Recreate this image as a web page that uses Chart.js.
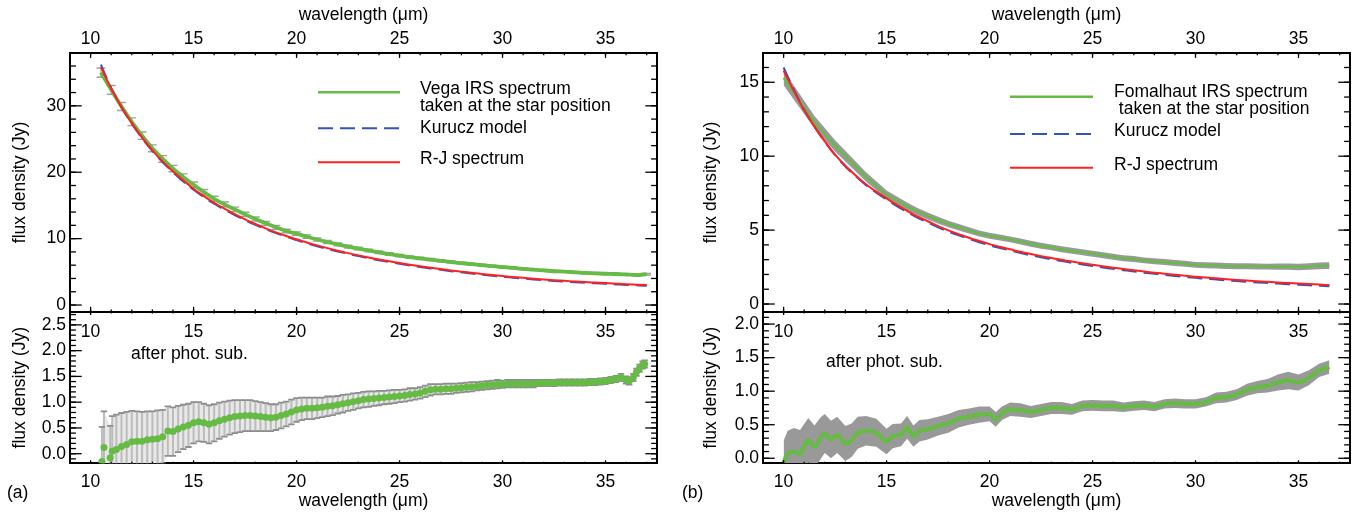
<!DOCTYPE html>
<html>
<head>
<meta charset="utf-8">
<script src="https://cdn.jsdelivr.net/npm/chart.js@4.4.1/dist/chart.umd.min.js"></script>
<style>
html,body{margin:0;padding:0;background:#fff;width:1356px;height:514px;overflow:hidden}
#stage{position:absolute;left:0;top:0;width:1356px;height:514px;font-family:"Liberation Sans",Arial,Helvetica,sans-serif;color:#000}
#stage canvas{position:absolute;top:0}
.t{position:absolute;font-size:17.5px;line-height:20px;white-space:pre}
</style>
</head>
<body>
<div id="stage">
  <canvas id="lb" width="678" height="514" style="left:0;width:678px;height:514px"></canvas>
  <canvas id="lt" width="678" height="514" style="left:0;width:678px;height:514px"></canvas>
  <canvas id="rb" width="678" height="514" style="left:678px;width:678px;height:514px"></canvas>
  <canvas id="rt" width="678" height="514" style="left:678px;width:678px;height:514px"></canvas>
  <svg width="1356" height="514" style="position:absolute;left:0;top:0">
    <line x1="318" y1="92.3" x2="400" y2="92.3" stroke="#66bb44" stroke-width="2.5"/>
    <line x1="318" y1="128.3" x2="400" y2="128.3" stroke="#3355bb" stroke-width="2" stroke-dasharray="15 7"/>
    <line x1="318" y1="162.3" x2="400" y2="162.3" stroke="#ff2020" stroke-width="2"/>
    <line x1="1010" y1="96.7" x2="1093" y2="96.7" stroke="#66bb44" stroke-width="2.5"/>
    <line x1="1010" y1="134" x2="1093" y2="134" stroke="#3355bb" stroke-width="2" stroke-dasharray="15 7"/>
    <line x1="1010" y1="167.7" x2="1093" y2="167.7" stroke="#ff2020" stroke-width="2"/>
  </svg>
  <div class="t" style="left:420px;top:78px">Vega IRS spectrum</div>
  <div class="t" style="left:420px;top:95px">taken at the star position</div>
  <div class="t" style="left:420px;top:117px">Kurucz model</div>
  <div class="t" style="left:420px;top:148px">R-J spectrum</div>
  <div class="t" style="left:1114px;top:81px">Fomalhaut IRS spectrum</div>
  <div class="t" style="left:1114px;top:98px"> taken at the star position</div>
  <div class="t" style="left:1114px;top:120px">Kurucz model</div>
  <div class="t" style="left:1114px;top:154px">R-J spectrum</div>
  <div class="t" style="left:131px;top:343px">after phot. sub.</div>
  <div class="t" style="left:826px;top:351px">after phot. sub.</div>
  <div class="t" style="left:7px;top:482px">(a)</div>
  <div class="t" style="left:682px;top:482px">(b)</div>
</div>
<script>
// ---------------- DATA ----------------
const xTickVals = [10, 15, 20, 25, 30, 35];
const vegaFluxTicks = [0, 10, 20, 30];
const vegaResTicks = [0, 0.5, 1, 1.5, 2, 2.5];
const fomFluxTicks = [0, 5, 10, 15];
const fomResTicks = [0, 0.5, 1, 1.5, 2];

// Vega, upper panel (Jy)
const vegaWave = [10.5, 11, 11.5, 12, 12.5, 13, 13.5, 14, 14.5, 15,
  15.5, 16, 16.5, 17, 17.5, 18, 18.5, 19, 19.5, 20,
  20.5, 21, 21.5, 22, 22.5, 23, 23.5, 24, 24.5, 25,
  25.5, 26, 26.5, 27, 27.5, 28, 28.5, 29, 29.5, 30,
  30.5, 31, 31.5, 32, 32.5, 33, 33.5, 34, 34.5, 35,
  35.5, 36, 36.5, 37];
const vegaIRS = [35.0, 32.4, 29.9, 27.6, 25.5, 23.6, 22.0, 20.55, 19.3, 18.1,
  17.0, 16.0, 15.15, 14.4, 13.65, 12.95, 12.3, 11.7, 11.15, 10.75,
  10.3, 9.87, 9.49, 9.13, 8.8, 8.5, 8.22, 7.94, 7.68, 7.44,
  7.22, 7.02, 6.85, 6.66, 6.47, 6.31, 6.15, 6.0, 5.86, 5.72,
  5.59, 5.45, 5.32, 5.21, 5.09, 5.03, 4.93, 4.84, 4.77, 4.71,
  4.67, 4.6, 4.52, 4.65];
const vegaIRSerr = [0.7, 0.65, 0.6, 0.58, 0.55, 0.52, 0.5, 0.48, 0.45, 0.42,
  0.4, 0.38, 0.36, 0.34, 0.32, 0.3, 0.29, 0.28, 0.27, 0.26,
  0.25, 0.24, 0.23, 0.22, 0.21, 0.2, 0.2, 0.19, 0.19, 0.18,
  0.18, 0.17, 0.17, 0.16, 0.16, 0.15, 0.15, 0.15, 0.14, 0.14,
  0.14, 0.13, 0.13, 0.13, 0.12, 0.12, 0.12, 0.12, 0.12, 0.12,
  0.12, 0.12, 0.12, 0.12];
const vegaKurucz = [36.2, 32.7, 29.8, 27.3, 25.1, 23.2, 21.5, 20.0, 18.6, 17.35,
  16.25, 15.25, 14.35, 13.55, 12.78, 12.08, 11.43, 10.83, 10.28, 9.78,
  9.3, 8.86, 8.45, 8.07, 7.71, 7.37, 7.05, 6.75, 6.47, 6.21,
  5.96, 5.73, 5.51, 5.3, 5.1, 4.92, 4.74, 4.57, 4.41, 4.26,
  4.12, 3.98, 3.85, 3.73, 3.63, 3.54, 3.44, 3.35, 3.27, 3.19,
  3.11, 3.03, 2.96, 2.9];
const vegaRJ = [35.8, 32.6, 29.8, 27.4, 25.2, 23.3, 21.6, 20.1, 18.8, 17.5,
  16.4, 15.4, 14.5, 13.7, 12.9, 12.2, 11.55, 10.95, 10.4, 9.9,
  9.42, 8.98, 8.57, 8.18, 7.82, 7.48, 7.16, 6.86, 6.58, 6.32,
  6.07, 5.84, 5.62, 5.41, 5.21, 5.03, 4.85, 4.68, 4.52, 4.37,
  4.23, 4.09, 3.96, 3.84, 3.74, 3.65, 3.55, 3.46, 3.38, 3.3,
  3.22, 3.14, 3.07, 3.0];

// Vega, lower panel: after photosphere subtraction (Jy)
const vegaResWave = [10.55, 10.65, 10.95, 11.05, 11.25, 11.5, 11.75, 12.0, 12.25, 12.5,
  12.75, 13.0, 13.25, 13.5, 13.75, 14.0, 14.25, 14.5, 14.75, 15.0,
  15.25, 15.5, 15.75, 16.0, 16.25, 16.5, 16.75, 17.0, 17.25, 17.5,
  17.75, 18.0, 18.25, 18.5, 18.75, 19.0, 19.25, 19.5, 19.75, 20.0,
  20.25, 20.5, 20.75, 21.0, 21.25, 21.5, 21.75, 22.0, 22.25, 22.5,
  22.75, 23.0, 23.25, 23.5, 23.75, 24.0, 24.25, 24.5, 24.75, 25.0,
  25.25, 25.5, 25.75, 26.0, 26.25, 26.5, 26.75, 27.0, 27.25, 27.5,
  27.75, 28.0, 28.25, 28.5, 28.75, 29.0, 29.25, 29.5, 29.75, 30.0,
  30.25, 30.5, 30.75, 31.0, 31.25, 31.5, 31.75, 32.0, 32.25, 32.5,
  32.75, 33.0, 33.25, 33.5, 33.75, 34.0, 34.25, 34.5, 34.75, 35.0,
  35.25, 35.5, 35.75, 36.0, 36.15, 36.35, 36.5, 36.65, 36.8, 36.9];
const vegaRes = [-0.15, 0.12, -0.08, 0.05, 0.08, 0.14, 0.18, 0.23, 0.24, 0.24,
  0.27, 0.28, 0.29, 0.33, 0.44, 0.43, 0.48, 0.52, 0.55, 0.60,
  0.62, 0.60, 0.57, 0.60, 0.64, 0.67, 0.70, 0.72, 0.73, 0.74,
  0.74, 0.73, 0.72, 0.71, 0.70, 0.71, 0.74, 0.77, 0.81, 0.85,
  0.87, 0.88, 0.88, 0.89, 0.90, 0.92, 0.93, 0.95, 0.97, 0.99,
  1.01, 1.03, 1.05, 1.06, 1.07, 1.08, 1.09, 1.10, 1.11, 1.12,
  1.13, 1.15, 1.16, 1.18, 1.21, 1.24, 1.25, 1.25, 1.26, 1.26,
  1.27, 1.28, 1.29, 1.30, 1.31, 1.32, 1.33, 1.34, 1.35, 1.35,
  1.36, 1.36, 1.36, 1.36, 1.36, 1.36, 1.37, 1.37, 1.37, 1.37,
  1.38, 1.38, 1.38, 1.38, 1.38, 1.38, 1.39, 1.39, 1.40, 1.41,
  1.43, 1.45, 1.48, 1.43, 1.41, 1.48, 1.58, 1.66, 1.72, 1.74];
const vegaResErr = [0.67, 0.70, 0.62, 0.68, 0.68, 0.65, 0.63, 0.60, 0.58, 0.57,
  0.55, 0.54, 0.55, 0.52, 0.48, 0.47, 0.45, 0.43, 0.42, 0.40,
  0.38, 0.37, 0.37, 0.36, 0.35, 0.34, 0.33, 0.32, 0.31, 0.30,
  0.30, 0.29, 0.28, 0.27, 0.26, 0.25, 0.25, 0.24, 0.24, 0.23,
  0.22, 0.21, 0.21, 0.20, 0.19, 0.19, 0.18, 0.17, 0.17, 0.16,
  0.16, 0.15, 0.15, 0.15, 0.14, 0.14, 0.13, 0.13, 0.13, 0.12,
  0.12, 0.12, 0.11, 0.11, 0.11, 0.11, 0.10, 0.10, 0.10, 0.10,
  0.09, 0.09, 0.09, 0.09, 0.08, 0.08, 0.08, 0.08, 0.08, 0.07,
  0.07, 0.07, 0.07, 0.07, 0.07, 0.07, 0.06, 0.06, 0.06, 0.06,
  0.06, 0.06, 0.06, 0.06, 0.06, 0.06, 0.06, 0.06, 0.06, 0.06,
  0.06, 0.06, 0.07, 0.07, 0.07, 0.07, 0.07, 0.07, 0.07, 0.07];

// Fomalhaut, upper panel (Jy)
const fomWave = [10, 10.5, 11, 11.5, 12, 12.5, 13, 13.5, 14, 14.5,
  15, 15.5, 16, 16.5, 17, 17.5, 18, 18.5, 19, 19.5,
  20, 20.5, 21, 21.5, 22, 22.5, 23, 23.5, 24, 24.5,
  25, 25.5, 26, 26.5, 27, 27.5, 28, 28.5, 29, 29.5,
  30, 30.5, 31, 31.5, 32, 32.5, 33, 33.5, 34, 34.5,
  35, 35.5, 36, 36.5];
const fomIRS = [15.3, 14.3, 13.3, 12.3, 11.5, 10.7, 10.0, 9.3, 8.6, 8.0,
  7.4, 7.0, 6.6, 6.25, 5.95, 5.68, 5.42, 5.2, 4.98, 4.77,
  4.62, 4.5, 4.37, 4.23, 4.08, 3.94, 3.83, 3.7, 3.6, 3.5,
  3.4, 3.3, 3.2, 3.1, 3.04, 2.95, 2.89, 2.84, 2.78, 2.72,
  2.65, 2.62, 2.6, 2.57, 2.55, 2.55, 2.54, 2.53, 2.53, 2.53,
  2.51, 2.53, 2.58, 2.6];
const fomIRSerr = [0.5, 0.48, 0.45, 0.42, 0.4, 0.38, 0.36, 0.34, 0.32, 0.3,
  0.28, 0.27, 0.26, 0.25, 0.24, 0.23, 0.22, 0.22, 0.21, 0.21,
  0.2, 0.2, 0.2, 0.2, 0.2, 0.2, 0.2, 0.2, 0.2, 0.2,
  0.2, 0.2, 0.2, 0.2, 0.2, 0.2, 0.2, 0.2, 0.2, 0.2,
  0.2, 0.2, 0.2, 0.2, 0.2, 0.2, 0.2, 0.2, 0.21, 0.21,
  0.22, 0.22, 0.23, 0.23];
const fomKurucz = [16.0, 14.5, 13.15, 12.0, 10.98, 10.07, 9.3, 8.64, 8.04, 7.53,
  7.07, 6.62, 6.22, 5.84, 5.51, 5.19, 4.9, 4.64, 4.4, 4.18,
  3.97, 3.79, 3.62, 3.45, 3.3, 3.16, 3.03, 2.91, 2.79, 2.68,
  2.57, 2.47, 2.38, 2.29, 2.2, 2.12, 2.04, 1.97, 1.9, 1.83,
  1.77, 1.71, 1.66, 1.6, 1.55, 1.51, 1.46, 1.42, 1.38, 1.34,
  1.31, 1.27, 1.24, 1.21];
const fomRJ = [15.8, 14.4, 13.1, 12.0, 11.0, 10.1, 9.35, 8.7, 8.1, 7.6,
  7.15, 6.7, 6.3, 5.92, 5.6, 5.27, 4.98, 4.72, 4.48, 4.26,
  4.05, 3.87, 3.7, 3.53, 3.38, 3.24, 3.11, 2.99, 2.87, 2.76,
  2.65, 2.55, 2.46, 2.37, 2.28, 2.2, 2.12, 2.05, 1.98, 1.91,
  1.85, 1.79, 1.74, 1.68, 1.63, 1.59, 1.54, 1.5, 1.46, 1.42,
  1.39, 1.35, 1.32, 1.28];

// Fomalhaut, lower panel: after photosphere subtraction (Jy)
const fomResWave = [10.0, 10.2, 10.5, 10.8, 11.0, 11.2, 11.5, 11.8, 12.0, 12.3,
  12.6, 13.0, 13.3, 13.6, 14.0, 14.5, 15.0, 15.3, 15.7, 16.0,
  16.3, 16.6, 17.0, 17.5, 18.0, 18.5, 19.0, 19.5, 20.0, 20.3,
  20.6, 21.0, 21.5, 22.0, 22.5, 23.0, 23.5, 24.0, 24.5, 25.0,
  25.5, 26.0, 26.5, 27.0, 27.5, 28.0, 28.5, 29.0, 29.5, 30.0,
  30.5, 31.0, 31.5, 32.0, 32.5, 33.0, 33.5, 34.0, 34.5, 35.0,
  35.5, 36.0, 36.5];
const fomRes = [-0.06, 0.07, 0.10, 0.07, 0.17, 0.27, 0.17, 0.30, 0.37, 0.28,
  0.35, 0.22, 0.27, 0.38, 0.41, 0.38, 0.25, 0.33, 0.35, 0.46,
  0.33, 0.41, 0.43, 0.48, 0.52, 0.59, 0.62, 0.65, 0.66, 0.58,
  0.67, 0.73, 0.72, 0.69, 0.72, 0.75, 0.75, 0.73, 0.78, 0.79,
  0.78, 0.78, 0.76, 0.78, 0.79, 0.77, 0.81, 0.82, 0.81, 0.81,
  0.84, 0.90, 0.91, 0.95, 1.02, 1.06, 1.08, 1.13, 1.16, 1.13,
  1.20, 1.31, 1.36];
const fomResErr = [0.32, 0.34, 0.35, 0.35, 0.34, 0.33, 0.32, 0.31, 0.29, 0.28,
  0.27, 0.26, 0.25, 0.24, 0.22, 0.21, 0.19, 0.18, 0.17, 0.17,
  0.16, 0.16, 0.15, 0.14, 0.14, 0.13, 0.12, 0.12, 0.11, 0.11,
  0.10, 0.10, 0.10, 0.09, 0.09, 0.09, 0.09, 0.08, 0.08, 0.08,
  0.08, 0.08, 0.07, 0.07, 0.07, 0.07, 0.07, 0.07, 0.07, 0.07,
  0.07, 0.08, 0.08, 0.08, 0.09, 0.09, 0.10, 0.12, 0.13, 0.12,
  0.11, 0.10, 0.10];

// ---------------- STYLE / LAYOUT ----------------
const GREEN = '#66bb44', BLUE = '#3355bb', RED = '#ff2020';
const FONT = {family: '"Liberation Sans", Arial, Helvetica, sans-serif', size: 17.5};
const X_MIN = 9, X_MAX = 37.5;
const TOP_Y = 52.7, MID_Y = 312, BOT_Y = 463.3, H = 514;

const pts = (w, v) => w.map((x, i) => ({x, y: v[i]}));
const setTicks = vals => s => { s.ticks = vals.map(v => ({value: v})); };

function xAxis(position, height, labels, pad, title, titlePad) {
  return {
    type: 'linear', axis: 'x', position, min: X_MIN, max: X_MAX,
    afterBuildTicks: setTicks(xTickVals),
    afterFit: s => { s.height = height; },
    grid: {display: false, drawTicks: false},
    border: {display: true, color: '#000', width: 2},
    ticks: {display: labels, color: '#000', font: FONT, padding: pad, maxRotation: 0, autoSkip: false, callback: v => String(v)},
    title: {display: !!title, text: title || '', color: '#000', font: FONT, padding: titlePad || 0}
  };
}
function yAxis(position, min, max, vals, width, labels, decimals, title, titlePad) {
  return {
    type: 'linear', axis: 'y', position, min, max,
    afterBuildTicks: setTicks(vals),
    afterFit: s => { s.width = width; },
    grid: {display: false, drawTicks: false},
    border: {display: true, color: '#000', width: 2},
    ticks: {display: labels, color: '#000', font: FONT, padding: 4, autoSkip: false, callback: v => Number(v).toFixed(decimals)},
    title: {display: !!title, text: title || '', color: '#000', font: FONT, padding: {top: titlePad || 0, bottom: 0}}
  };
}

// inward tick marks on all four sides (positions from the chart's scales)
function inwardTicks(specs) {
  return {
    id: 'inwardTicks',
    afterDraw(chart) {
      const {ctx, chartArea: a} = chart;
      ctx.save();
      ctx.strokeStyle = '#000';
      ctx.lineWidth = 1.3;
      for (const sp of specs) {
        const s = chart.scales[sp.id];
        const draw = (v, len) => {
          if (v < s.min - 1e-9 || v > s.max + 1e-9) return;
          const p = s.getPixelForValue(v);
          ctx.beginPath();
          if (s.isHorizontal()) {
            const y0 = s.position === 'top' ? a.top : a.bottom;
            ctx.moveTo(p, y0); ctx.lineTo(p, y0 + (s.position === 'top' ? len : -len));
          } else {
            const x0 = s.position === 'left' ? a.left : a.right;
            ctx.moveTo(x0, p); ctx.lineTo(x0 + (s.position === 'left' ? len : -len), p);
          }
          ctx.stroke();
        };
        s.ticks.forEach(t => draw(t.value, sp.major));
        for (let k = 0; ; k++) {
          const v = +(sp.from + k * sp.step).toFixed(6);
          if (v > s.max + 1e-9) break;
          draw(v, sp.minor);
        }
      }
      ctx.restore();
    }
  };
}

// error bars from value/error arrays through the x/y scales,
// drawn just before the dataset with index `before`
function errorBars(before, sets) {
  return {
    id: 'errorBars',
    beforeDatasetDraw(chart, args) {
      if (args.index !== before) return;
      const {ctx, chartArea: a} = chart;
      const xs = chart.scales.x, ys = chart.scales.y;
      ctx.save();
      ctx.beginPath(); ctx.rect(a.left, a.top, a.right - a.left, a.bottom - a.top); ctx.clip();
      for (const st of sets) {
        st.wave.forEach((w, i) => {
          const px = xs.getPixelForValue(w);
          const hi = ys.getPixelForValue(st.val[i] + st.err[i]);
          const lo = ys.getPixelForValue(st.val[i] - st.err[i]);
          ctx.strokeStyle = st.bar; ctx.lineWidth = st.barW;
          ctx.beginPath(); ctx.moveTo(px, lo); ctx.lineTo(px, hi); ctx.stroke();
        });
        st.wave.forEach((w, i) => {
          const px = xs.getPixelForValue(w);
          const hi = ys.getPixelForValue(st.val[i] + st.err[i]);
          const lo = ys.getPixelForValue(st.val[i] - st.err[i]);
          ctx.strokeStyle = st.capC; ctx.lineWidth = st.capW;
          ctx.beginPath();
          ctx.moveTo(px - st.cap, hi); ctx.lineTo(px + st.cap, hi);
          ctx.moveTo(px - st.cap, lo); ctx.lineTo(px + st.cap, lo);
          ctx.stroke();
        });
      }
      ctx.restore();
    }
  };
}

function base(scales) {
  return {
    responsive: false, animation: false, events: [],
    layout: {padding: 0},
    plugins: {legend: {display: false}, tooltip: {enabled: false}},
    scales
  };
}
const lineDs = (data, color, width, order, dash) => ({
  data, borderColor: color, borderWidth: width, borderDash: dash || [], pointRadius: 0,
  fill: false, order, cubicInterpolationMode: 'monotone'
});
function band(wave, val, err, color, order) {
  return [
    {data: pts(wave, val.map((v, i) => v - err[i])), borderWidth: 0, pointRadius: 0, fill: false, order: order + 1, backgroundColor: color},
    {data: pts(wave, val.map((v, i) => v + err[i])), borderWidth: 0, pointRadius: 0, fill: '-1', order, backgroundColor: color}
  ];
}

const yTitle = 'flux density (Jy)';

// ---------- (a) Vega ----------
new Chart(document.getElementById('lt'), {
  type: 'line',
  data: {datasets: [
    lineDs(pts(vegaWave, vegaRJ), RED, 2, 1),
    lineDs(pts(vegaWave, vegaKurucz), BLUE, 2, 2, [15, 7]),
    lineDs(pts(vegaWave, vegaIRS), GREEN, 3.8, 3)
  ]},
  options: base({
    x: xAxis('bottom', H - MID_Y, true, 9.3),
    xTop: xAxis('top', TOP_Y, true, 3.3, 'wavelength (μm)', {top: 4.8, bottom: 0}),
    y: yAxis('left', -1.05, 38, vegaFluxTicks, 70, true, 0, yTitle, 9.5),
    yR: yAxis('right', -1.05, 38, vegaFluxTicks, 678 - 657, false, 0)
  }),
  plugins: [
    errorBars(2, [{wave: vegaWave, val: vegaIRS, err: vegaIRSerr, bar: '#b4b4b4', barW: 1.2, capC: '#a0a0a0', capW: 1.4, cap: 4.4}]),
    inwardTicks([
      {id: 'x', major: 5.2, minor: 2.6, from: 9, step: 1},
      {id: 'xTop', major: 5.2, minor: 2.6, from: 9, step: 1},
      {id: 'y', major: 11.7, minor: 5.9, from: 0, step: 2},
      {id: 'yR', major: 11.7, minor: 5.9, from: 0, step: 2}
    ])
  ]
});

new Chart(document.getElementById('lb'), {
  type: 'line',
  data: {datasets: [
    {data: pts(vegaResWave, vegaRes), showLine: false, pointRadius: 3.5, pointBorderWidth: 0,
     pointBackgroundColor: GREEN, backgroundColor: GREEN, borderColor: GREEN, order: 1},
    ...band(vegaResWave, vegaRes, vegaResErr, '#e8e8e8', 2)
  ]},
  options: base({
    x: xAxis('bottom', H - BOT_Y, true, 8, 'wavelength (μm)', {top: 0, bottom: 2.1}),
    xTop: xAxis('top', MID_Y, false, 0),
    y: yAxis('left', -0.186, 2.75, vegaResTicks, 70, true, 1, yTitle, 9.5),
    yR: yAxis('right', -0.186, 2.75, vegaResTicks, 678 - 657, false, 1)
  }),
  plugins: [
    errorBars(0, [{wave: vegaResWave, val: vegaRes, err: vegaResErr, bar: '#bcbcbc', barW: 2, capC: '#8e8e8e', capW: 1.8, cap: 3.2}]),
    inwardTicks([
      {id: 'x', major: 3, minor: 1.6, from: 9, step: 1},
      {id: 'xTop', major: 3, minor: 1.6, from: 9, step: 1},
      {id: 'y', major: 11.7, minor: 5.9, from: -0.1, step: 0.1},
      {id: 'yR', major: 11.7, minor: 5.9, from: -0.1, step: 0.1}
    ])
  ]
});

// ---------- (b) Fomalhaut ----------
new Chart(document.getElementById('rt'), {
  type: 'line',
  data: {datasets: [
    lineDs(pts(fomWave, fomRJ), RED, 2, 1),
    lineDs(pts(fomWave, fomKurucz), BLUE, 2, 2, [15, 7]),
    lineDs(pts(fomWave, fomIRS), GREEN, 2.2, 3),
    ...band(fomWave, fomIRS, fomIRSerr, '#9a9a9a', 4)
  ]},
  options: base({
    x: xAxis('bottom', H - MID_Y, true, 9.3),
    xTop: xAxis('top', TOP_Y, true, 3.3, 'wavelength (μm)', {top: 4.8, bottom: 0}),
    y: yAxis('left', -0.54, 17.0, fomFluxTicks, 85, true, 0, yTitle, 22.5),
    yR: yAxis('right', -0.54, 17.0, fomFluxTicks, 6, false, 0)
  }),
  plugins: [
    inwardTicks([
      {id: 'x', major: 5.2, minor: 2.6, from: 9, step: 1},
      {id: 'xTop', major: 5.2, minor: 2.6, from: 9, step: 1},
      {id: 'y', major: 11.7, minor: 5.9, from: 0, step: 1},
      {id: 'yR', major: 11.7, minor: 5.9, from: 0, step: 1}
    ])
  ]
});

new Chart(document.getElementById('rb'), {
  type: 'line',
  data: {datasets: [
    lineDs(pts(fomResWave, fomRes), GREEN, 4.2, 1),
    ...band(fomResWave, fomRes, fomResErr, '#999999', 2)
  ]},
  options: base({
    x: xAxis('bottom', H - BOT_Y, true, 8, 'wavelength (μm)', {top: 0, bottom: 2.1}),
    xTop: xAxis('top', MID_Y, false, 0),
    y: yAxis('left', -0.075, 2.18, fomResTicks, 85, true, 1, yTitle, 22.5),
    yR: yAxis('right', -0.075, 2.18, fomResTicks, 6, false, 1)
  }),
  plugins: [
    inwardTicks([
      {id: 'x', major: 3, minor: 1.6, from: 9, step: 1},
      {id: 'xTop', major: 3, minor: 1.6, from: 9, step: 1},
      {id: 'y', major: 11.7, minor: 5.9, from: 0, step: 0.1},
      {id: 'yR', major: 11.7, minor: 5.9, from: 0, step: 0.1}
    ])
  ]
});
</script>
</body>
</html>
